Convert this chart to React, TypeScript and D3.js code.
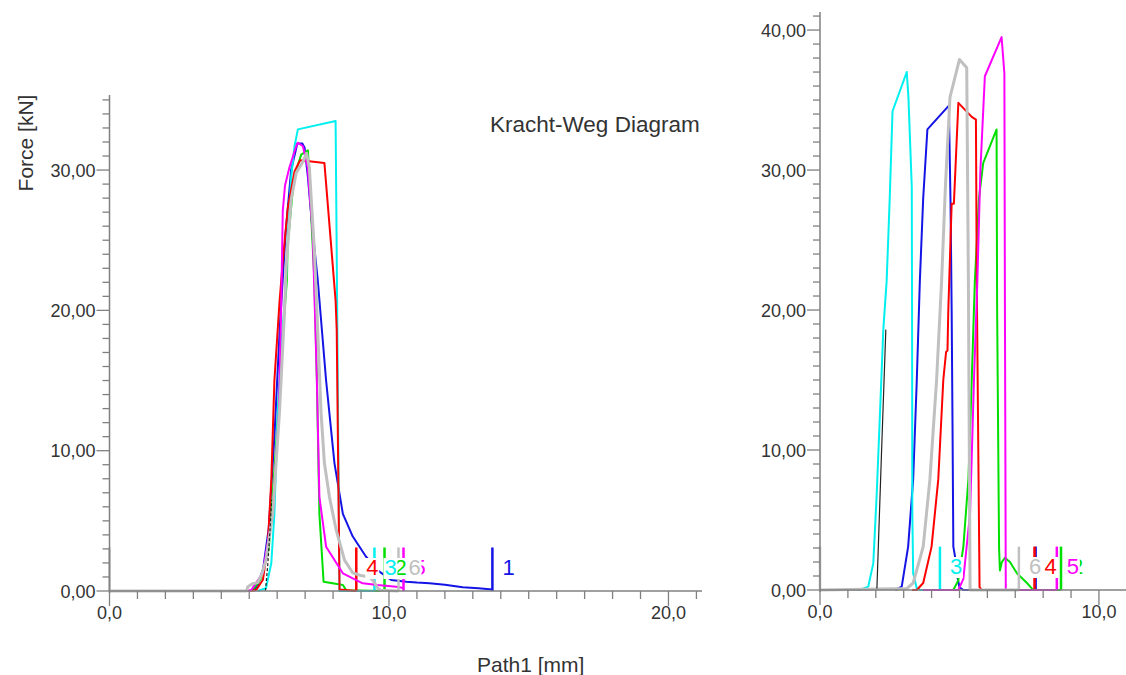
import React from 'react';
import * as d3 from 'd3';

type Pt = [number, number];

// Series identifiers and colours (1..6)
const seriesIds = ['1', '2', '3', '4', '5', '6'];
const seriesColors = ['#1414e6', '#00e000', '#00f0f0', '#ff0000', '#ff00ff', '#c0c0c0'];

// Left panel: Path1 [mm] vs Force [kN]
const leftBlue: Pt[] = [[5.15, 0], [5.3, 0.4], [5.5, 1.6], [5.7, 4.5], [5.9, 11], [6.1, 19], [6.3, 25.5], [6.5, 30], [6.72, 31.9], [6.9, 31.9], [6.98, 31.6], [7.1, 29.5], [7.25, 26], [7.45, 22.2], [7.75, 15], [8.05, 9.1], [8.35, 5.5], [8.7, 3.9], [9.18, 2.44], [9.66, 1.38], [10.08, 0.78], [10.62, 0.66], [11.0, 0.6], [11.45, 0.55], [12.0, 0.45], [12.64, 0.26], [13.2, 0.2], [13.7, 0.1]];
const leftGreen: Pt[] = [[5.1, 0], [5.4, 0.8], [5.7, 3], [5.95, 10], [6.15, 17], [6.35, 22.2], [6.37, 24.5], [6.6, 29.5], [6.86, 31.1], [7.1, 31.4], [7.33, 22.2], [7.42, 15], [7.51, 5.5], [7.66, 0.66], [8.35, 0.43], [8.47, 0.05], [9.84, 0]];
const leftCyan: Pt[] = [[5.3, 0], [5.6, 0.2], [5.79, 2.0], [5.9, 5.5], [6.02, 12.7], [6.15, 17.5], [6.3, 21.5], [6.38, 25.5], [6.5, 29.5], [6.62, 31.7], [6.74, 32.9], [8.09, 33.5], [8.23, 0], [9.48, 0]];
const leftRed: Pt[] = [[5.0, 0], [5.25, 0.07], [5.49, 0.8], [5.66, 3.2], [5.79, 7.9], [5.9, 15], [6.08, 20.5], [6.2, 23.5], [6.38, 27.3], [6.62, 29.9], [6.82, 30.7], [7.69, 30.5], [8.09, 20.7], [8.13, 18.6], [8.23, 0.1], [8.83, 0]];
const leftMagenta: Pt[] = [[4.9, 0], [5.07, 0.07], [5.48, 1.26], [5.84, 5.54], [6.06, 12.67], [6.14, 19.8], [6.2, 27.1], [6.28, 28.9], [6.44, 30.2], [6.68, 31.7], [6.74, 31.95], [6.92, 31.7], [7.09, 30.2], [7.27, 25.5], [7.42, 15.0], [7.51, 6.7], [7.75, 3.16], [8.35, 1.26], [9.06, 0.55], [9.59, 0.43], [10.26, 0.31], [10.52, 0.21]];
const leftGray: Pt[] = [[0, 0], [4.9, 0], [4.95, 0.3], [5.1, 0.5], [5.3, 0.6], [5.45, 1.2], [5.6, 2.2], [5.84, 5.5], [6.08, 12.7], [6.26, 19.8], [6.32, 23.1], [6.5, 27.9], [6.68, 29.8], [6.92, 30.6], [7.05, 31.2], [7.15, 30.2], [7.22, 27.9], [7.33, 24.3], [7.45, 18.6], [7.57, 12.7], [7.69, 9.1], [7.87, 6.7], [8.11, 4.35], [8.41, 2.2], [8.7, 1.3], [9.0, 1.1], [9.3, 1.0], [9.45, 0.7], [9.6, 0.2], [9.7, 0.05], [10.34, 0]];
const leftTrace: Pt[] = [[5.58, 0], [5.66, 1.8], [5.74, 4.2], [5.8, 6.5]];

// Right panel
const rightBlue: Pt[] = [[2.7, 0], [2.93, 0.24], [3.16, 3.1], [3.34, 7.9], [3.47, 15], [3.58, 22.1], [3.7, 28], [3.85, 32.9], [4.62, 34.6], [4.68, 27.6], [4.72, 20], [4.75, 12], [4.78, 3.1], [4.84, 2.4], [4.92, 1], [5.0, 0.2], [5.14, 0], [7.73, 0]];
const rightGreen: Pt[] = [[4.6, 0], [4.78, 0], [4.96, 0.7], [5.14, 3.1], [5.32, 7.9], [5.44, 15], [5.55, 22], [5.7, 28], [5.85, 30.5], [6.33, 32.9], [6.35, 20], [6.42, 3], [6.45, 1.4], [6.52, 2.0], [6.63, 2.3], [6.81, 2.0], [7.06, 1.2], [7.42, 0.5], [7.6, 0.1], [7.65, 0], [8.64, 0]];
const rightCyan: Pt[] = [[1.2, 0], [1.43, 0], [1.73, 0.24], [1.91, 1.9], [2.03, 6.7], [2.15, 12.6], [2.27, 18.6], [2.39, 22.1], [2.5, 28], [2.6, 34.2], [3.11, 37.0], [3.17, 35.2], [3.29, 28.8], [3.3, 20], [3.31, 5.5], [3.34, 1.2], [3.47, 0.1], [3.6, 0], [4.3, 0]];
const rightRed: Pt[] = [[3.3, 0], [3.47, 0], [3.7, 0.5], [4.0, 3.1], [4.24, 7.9], [4.42, 15], [4.52, 17.0], [4.57, 17.1], [4.6, 20], [4.72, 27.6], [4.8, 27.6], [4.96, 34.8], [5.44, 33.8], [5.59, 33.6], [5.62, 22], [5.72, 0.2], [5.8, 0], [7.69, 0]];
const rightMagenta: Pt[] = [[3.7, 0], [4.96, 0], [5.14, 0.8], [5.38, 5.5], [5.52, 15], [5.64, 22], [5.75, 30], [5.91, 36.7], [6.51, 39.5], [6.61, 36.9], [6.63, 20], [6.66, 0], [8.49, 0]];
const rightGray: Pt[] = [[0, 0], [3.11, 0.1], [3.34, 0.5], [3.7, 3.1], [3.94, 7.9], [4.18, 15], [4.36, 22.1], [4.5, 29], [4.66, 35.2], [5.0, 37.9], [5.26, 37.3], [5.32, 22], [5.38, 0], [7.13, 0]];
const rightTrace: Pt[] = [[2.04, 0.1], [2.2, 9.5], [2.36, 18.6]];

// Axis ticks
const leftXTicks = [0, 10, 20];
const leftYTicks = [0, 10, 20, 30];
const rightXTicks = [0, 10];
const rightYTicks = [0, 10, 20, 30, 40];

const markerHeight = 3.1; // kN, height of the end-of-test marker bars

const locale = d3.formatLocale({ decimal: ',', thousands: '.', grouping: [3], currency: ['', ''] });
const fmtX = locale.format('.1f');
const fmtY = locale.format('.2f');

const FONT = '"Liberation Sans", Arial, sans-serif';
const AXIS = '#808080';
const TEXT = '#333333';

type PanelProps = {
  xRange: [number, number];
  yRange: [number, number];
  xMax: number;
  yMax: number;
  xTicks: number[];
  yTicks: number[];
  series: Pt[][];
  trace: Pt[];
  traceDash?: string;
};

function Panel({ xRange, yRange, xMax, yMax, xTicks, yTicks, series, trace, traceDash }: PanelProps) {
  const x = d3.scaleLinear().domain([0, xMax]).range(xRange);
  const y = d3.scaleLinear().domain([0, yMax]).range(yRange);
  const line = d3.line<Pt>().x((d) => x(d[0])).y((d) => y(d[1]));
  const xMinor = d3.range(0, Math.floor(xMax) + 1);
  const yMinor = d3.range(0, Math.floor(yMax) + 1);
  const x0 = x(0);
  const y0 = y(0);

  return (
    <g>
      {/* curves with end-of-test marker bars */}
      {series.map((pts, i) => {
        const color = seriesColors[i];
        const isGray = i === 5;
        const last = pts[pts.length - 1];
        return (
          <g key={i}>
            <path d={line(pts) || ''} fill="none" stroke={color} strokeWidth={isGray ? 3 : 2} strokeLinejoin="round" />
            <line x1={x(last[0])} x2={x(last[0])} y1={y(0)} y2={y(markerHeight)} stroke={color} strokeWidth={2.5} />
            {pts[0][0] === 0 && (
              <line x1={x(0)} x2={x(0)} y1={y(0)} y2={y(markerHeight)} stroke={color} strokeWidth={2.5} />
            )}
          </g>
        );
      })}
      <path d={line(trace) || ''} fill="none" stroke="#222" strokeWidth={1.2} strokeDasharray={traceDash} />

      {/* series number labels */}
      {series.map((pts, i) => {
        const last = pts[pts.length - 1];
        const lx = x(last[0]) + 10;
        const base = y0 - 16;
        return (
          <g key={'l' + i}>
            <rect x={lx - 1} y={base - 17} width={14} height={21} fill="#fff" />
            <text x={lx} y={base} fontSize={22} fontFamily={FONT} fill={seriesColors[i]}>
              {seriesIds[i]}
            </text>
          </g>
        );
      })}

      {/* x axis */}
      <line x1={x0} x2={xRange[1]} y1={y0} y2={y0} stroke={AXIS} strokeWidth={1.5} />
      {xMinor.map((v) => (
        <line key={'xm' + v} x1={x(v)} x2={x(v)} y1={y0} y2={y0 + (xTicks.includes(v) ? 15 : 8)} stroke={AXIS} strokeWidth={1.3} />
      ))}
      {xTicks.map((v) => (
        <text key={'xt' + v} x={x(v)} y={y0 + 28} textAnchor="middle" fontSize={18} fontFamily={FONT} fill={TEXT}>
          {fmtX(v)}
        </text>
      ))}

      {/* y axis */}
      <line x1={x0} x2={x0} y1={y0 + 2} y2={yRange[1]} stroke={AXIS} strokeWidth={1.5} />
      {yMinor.map((v) => (
        <line key={'ym' + v} x1={x0} x2={x0 - (yTicks.includes(v) ? 13 : 7)} y1={y(v)} y2={y(v)} stroke={AXIS} strokeWidth={1.3} />
      ))}
      {yTicks.map((v) => (
        <text key={'yt' + v} x={x0 - 14} y={y(v) + 6.5} textAnchor="end" fontSize={18} fontFamily={FONT} fill={TEXT}>
          {fmtY(v)}
        </text>
      ))}
    </g>
  );
}

export default function App() {
  const leftSeries = [leftBlue, leftGreen, leftCyan, leftRed, leftMagenta, leftGray];
  const rightSeries = [rightBlue, rightGreen, rightCyan, rightRed, rightMagenta, rightGray];
  return (
    <svg width={1126} height={675} style={{ position: 'absolute', left: 0, top: 0, background: '#fff' }}>
      <rect width={1126} height={675} fill="#fff" />
      <Panel
        xRange={[109.5, 702]}
        yRange={[591, 95]}
        xMax={21.2}
        yMax={35.35}
        xTicks={leftXTicks}
        yTicks={leftYTicks}
        series={leftSeries}
        trace={leftTrace}
        traceDash="3,2"
      />
      <Panel
        xRange={[820, 1126]}
        yRange={[590, 12]}
        xMax={10.97}
        yMax={41.29}
        xTicks={rightXTicks}
        yTicks={rightYTicks}
        series={rightSeries}
        trace={rightTrace}
      />
      <text x={490} y={132} fontSize={22.5} fontFamily={FONT} fill={TEXT}>
        Kracht-Weg Diagram
      </text>
      <text x={477} y={672} fontSize={21} fontFamily={FONT} fill={TEXT}>
        Path1 [mm]
      </text>
      <text transform="translate(33,143) rotate(-90)" textAnchor="middle" fontSize={21} fontFamily={FONT} fill={TEXT}>
        Force [kN]
      </text>
    </svg>
  );
}
